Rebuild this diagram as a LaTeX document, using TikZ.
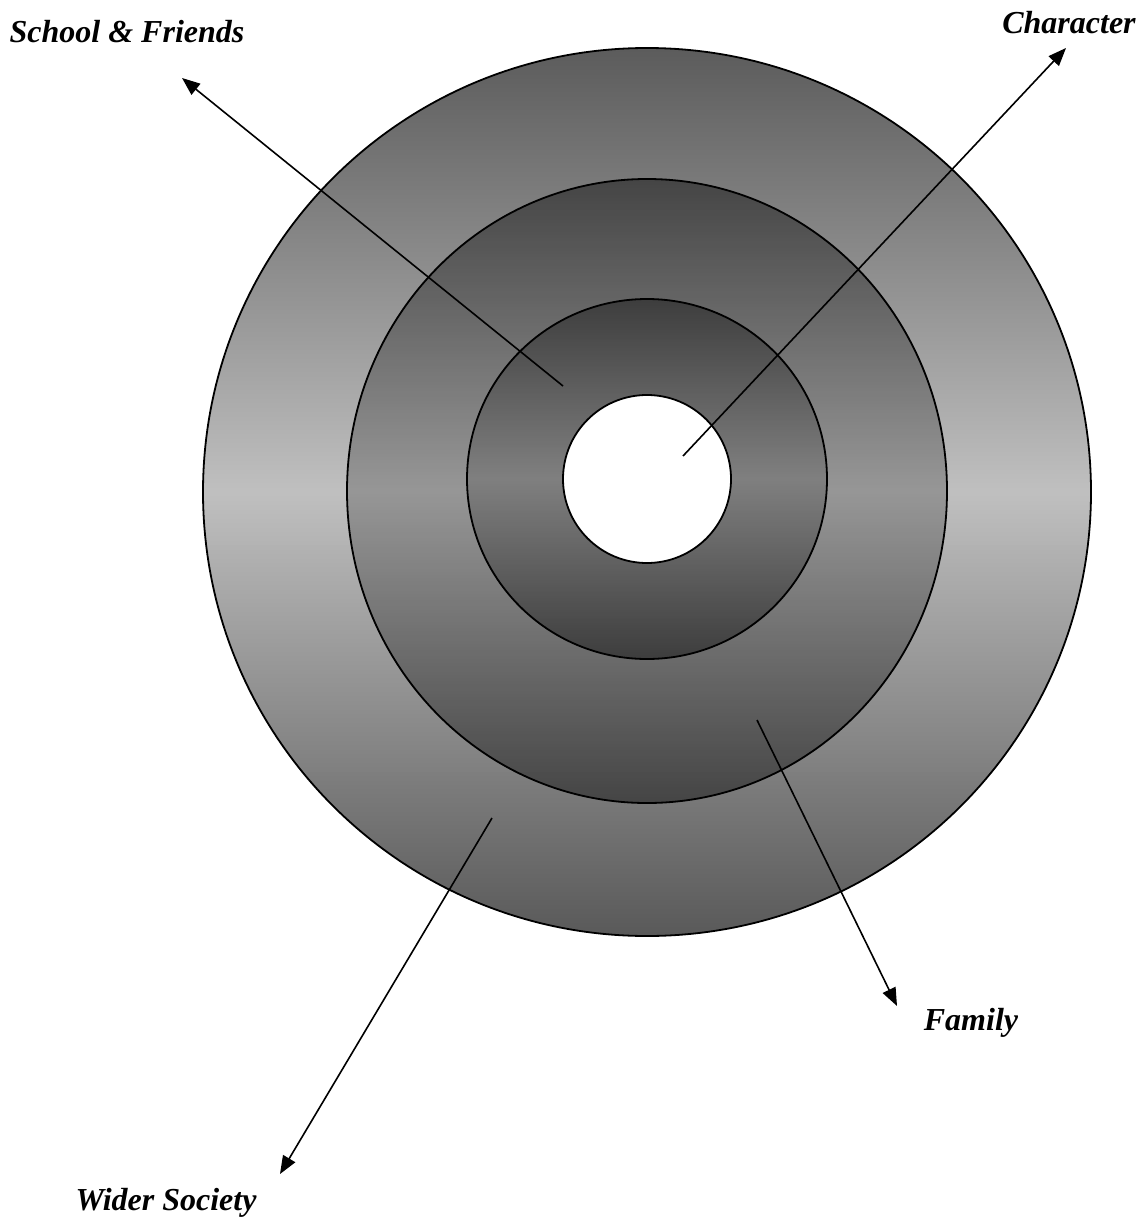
\documentclass[tikz,border=0pt]{standalone}
\usepackage{fontspec}
\setmainfont{Liberation Serif}
\usetikzlibrary{arrows.meta}
\newcommand\vgradshape[6]{%
  \begin{scope}
    \clip #1;
    \pgfmathsetmacro\vstep{(#3-#2)/200}%
    \foreach \i in {0,...,199}{%
      \pgfmathsetmacro\vya{#2+\vstep*\i}%
      \pgfmathsetmacro\vyb{#2+\vstep*(\i+1.4)}%
      \pgfmathsetmacro\vgt{(\i+0.5)/200}%
      \pgfmathsetmacro\vgg{\vgt<0.5 ? #4+(#5-#4)*2*\vgt : #5+(#6-#5)*(2*\vgt-1)}%
      \fill[black!\vgg] (0,\vya) rectangle (1145,\vyb);
    }
  \end{scope}
  \draw[ringline] #1;
}
\begin{document}
\begin{tikzpicture}[x=1pt,y=-1pt,
  ringline/.style={draw=black,line width=1.8pt},
  lbl/.style={font=\fontsize{32}{38}\selectfont\bfseries\itshape, inner sep=0pt, anchor=base},
  pointer/.style={draw=black,line width=1.6pt,-{Triangle[length=18pt,width=14pt]}}]
\useasboundingbox (0,0) rectangle (1145,1220);
% rings (vertical grey gradients)
\vgradshape{(647,492) circle[radius=444pt]}{48}{936}{64}{25}{65}
\vgradshape{(647,491) ellipse[x radius=300pt, y radius=312pt]}{179}{803}{73}{41}{73}
\vgradshape{(647,479) circle[radius=180pt]}{299}{659}{76}{50}{76}
\path[ringline, fill=white] (647,479) circle[radius=84pt];
% labels
\node[lbl] (school) at (127,43) {School \& Friends};
\node[lbl] (character) at (1069,34) {Character};
\node[lbl] (family) at (971,1030) {Family};
\node[lbl] (wider) at (166,1210) {Wider Society};
% pointer ends
\coordinate (s0) at (563,386);
\coordinate (s1) at (182,78);
\coordinate (c0) at (683,456);
\coordinate (c1) at (1066,48);
\coordinate (f0) at (757,720);
\coordinate (f1) at (897,1006);
\coordinate (w0) at (492,818);
\coordinate (w1) at (280,1174);
\draw[pointer] (s0) -- (s1);
\draw[pointer] (c0) -- (c1);
\draw[pointer] (f0) -- (f1);
\draw[pointer] (w0) -- (w1);
\end{tikzpicture}
\end{document}
